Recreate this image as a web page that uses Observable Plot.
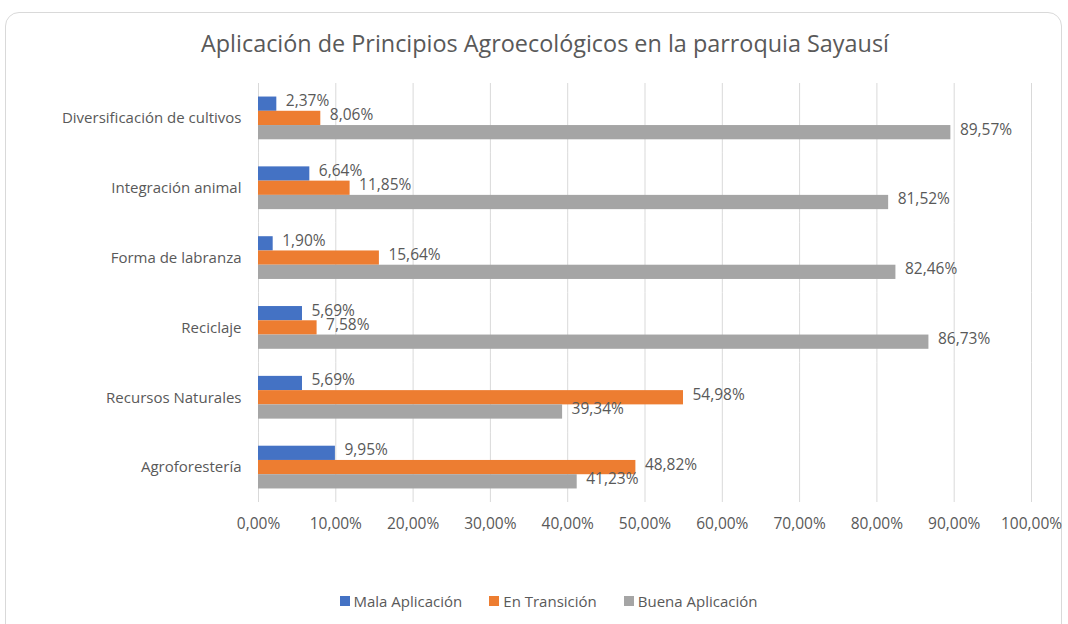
<!DOCTYPE html>
<html>
<head>
<meta charset="utf-8">
<script src="https://cdn.jsdelivr.net/npm/d3@7"></script>
<script src="https://cdn.jsdelivr.net/npm/@observablehq/plot@0.6"></script>
<style>
  html, body { margin: 0; padding: 0; background: #fff; width: 1068px; height: 624px; overflow: hidden; }
  body { font-family: "Open Sans", "Noto Sans", sans-serif; color: #595959; position: relative; }
  #card { position: absolute; left: 5px; top: 12px; width: 1057px; height: 700px; border: 1px solid #d9d9d9; border-radius: 14px; box-sizing: border-box; }
  #title { position: absolute; left: 0; width: 1090px; top: 27px; text-align: center; font-size: 23.4px; color: #595959; white-space: nowrap; }
  #chart { position: absolute; left: 0; top: 70px; }
  #legend { position: absolute; left: 0; width: 1097px; top: 591px; display: flex; justify-content: center; gap: 27px; font-size: 15px; color: #595959; }
  #legend .item { display: flex; align-items: center; }
  #legend .sw { width: 10px; height: 10px; margin-right: 4px; }
</style>
</head>
<body>
<div id="card"></div>
<div id="title">Aplicación de Principios Agroecológicos en la parroquia Sayausí</div>
<div id="chart"></div>
<div id="legend"></div>
<script>
const categories = ["Diversificación de cultivos", "Integración animal", "Forma de labranza", "Reciclaje", "Recursos Naturales", "Agroforestería"];
const series = ["Mala Aplicación", "En Transición", "Buena Aplicación"];
const mala = [2.37, 6.64, 1.90, 5.69, 5.69, 9.95];
const transicion = [8.06, 11.85, 15.64, 7.58, 54.98, 48.82];
const buena = [89.57, 81.52, 82.46, 86.73, 39.34, 41.23];
const colors = ["#4472C4", "#ED7D31", "#A5A5A5"];
const xTicks = [0, 10, 20, 30, 40, 50, 60, 70, 80, 90, 100];

const seriesValues = [mala, transicion, buena];
const rows = categories.flatMap((c, i) => series.map((s, j) => ({cat: c, serie: s, value: seriesValues[j][i]})));
const fmt = v => v.toFixed(2).replace(".", ",") + "%";

const chart = Plot.plot({
  width: 1068,
  height: 477,
  marginLeft: 258,
  marginRight: 37,
  marginTop: 13,
  marginBottom: 45,
  style: {fontFamily: '"Open Sans", "Noto Sans", sans-serif', fontSize: "15px", color: "#595959", background: "transparent"},
  x: {domain: [0, 100], label: null},
  y: {domain: series, axis: null, paddingInner: 0, paddingOuter: 0.95, round: false},
  fy: {domain: categories, paddingInner: 0, paddingOuter: 0, label: null, round: false},
  color: {domain: series, range: colors},
  marks: [
    Plot.gridX({ticks: xTicks, stroke: "#d9d9d9", strokeOpacity: 1, strokeWidth: 1}),
    Plot.barX(rows, {x: "value", y: "serie", fy: "cat", fill: "serie"}),
    Plot.text(rows, {x: "value", y: "serie", fy: "cat", text: d => fmt(d.value), textAnchor: "start", dx: 9, dy: -3, fill: "#595959", fontSize: 15.5}),
    Plot.axisX({ticks: xTicks, tickFormat: v => v.toFixed(2).replace(".", ",") + "%", tickSize: 0, tickPadding: 15, fontSize: 15.5, label: null, color: "#595959"}),
    Plot.axisFy({anchor: "left", tickSize: 0, tickPadding: 17, fontSize: 15, label: null, color: "#595959"})
  ]
});
document.getElementById("chart").appendChild(chart);

const legend = document.getElementById("legend");
series.forEach((s, i) => {
  const item = document.createElement("div");
  item.className = "item";
  const sw = document.createElement("span");
  sw.className = "sw";
  sw.style.background = colors[i];
  const t = document.createElement("span");
  t.textContent = s;
  item.appendChild(sw);
  item.appendChild(t);
  legend.appendChild(item);
});
</script>
</body>
</html>
